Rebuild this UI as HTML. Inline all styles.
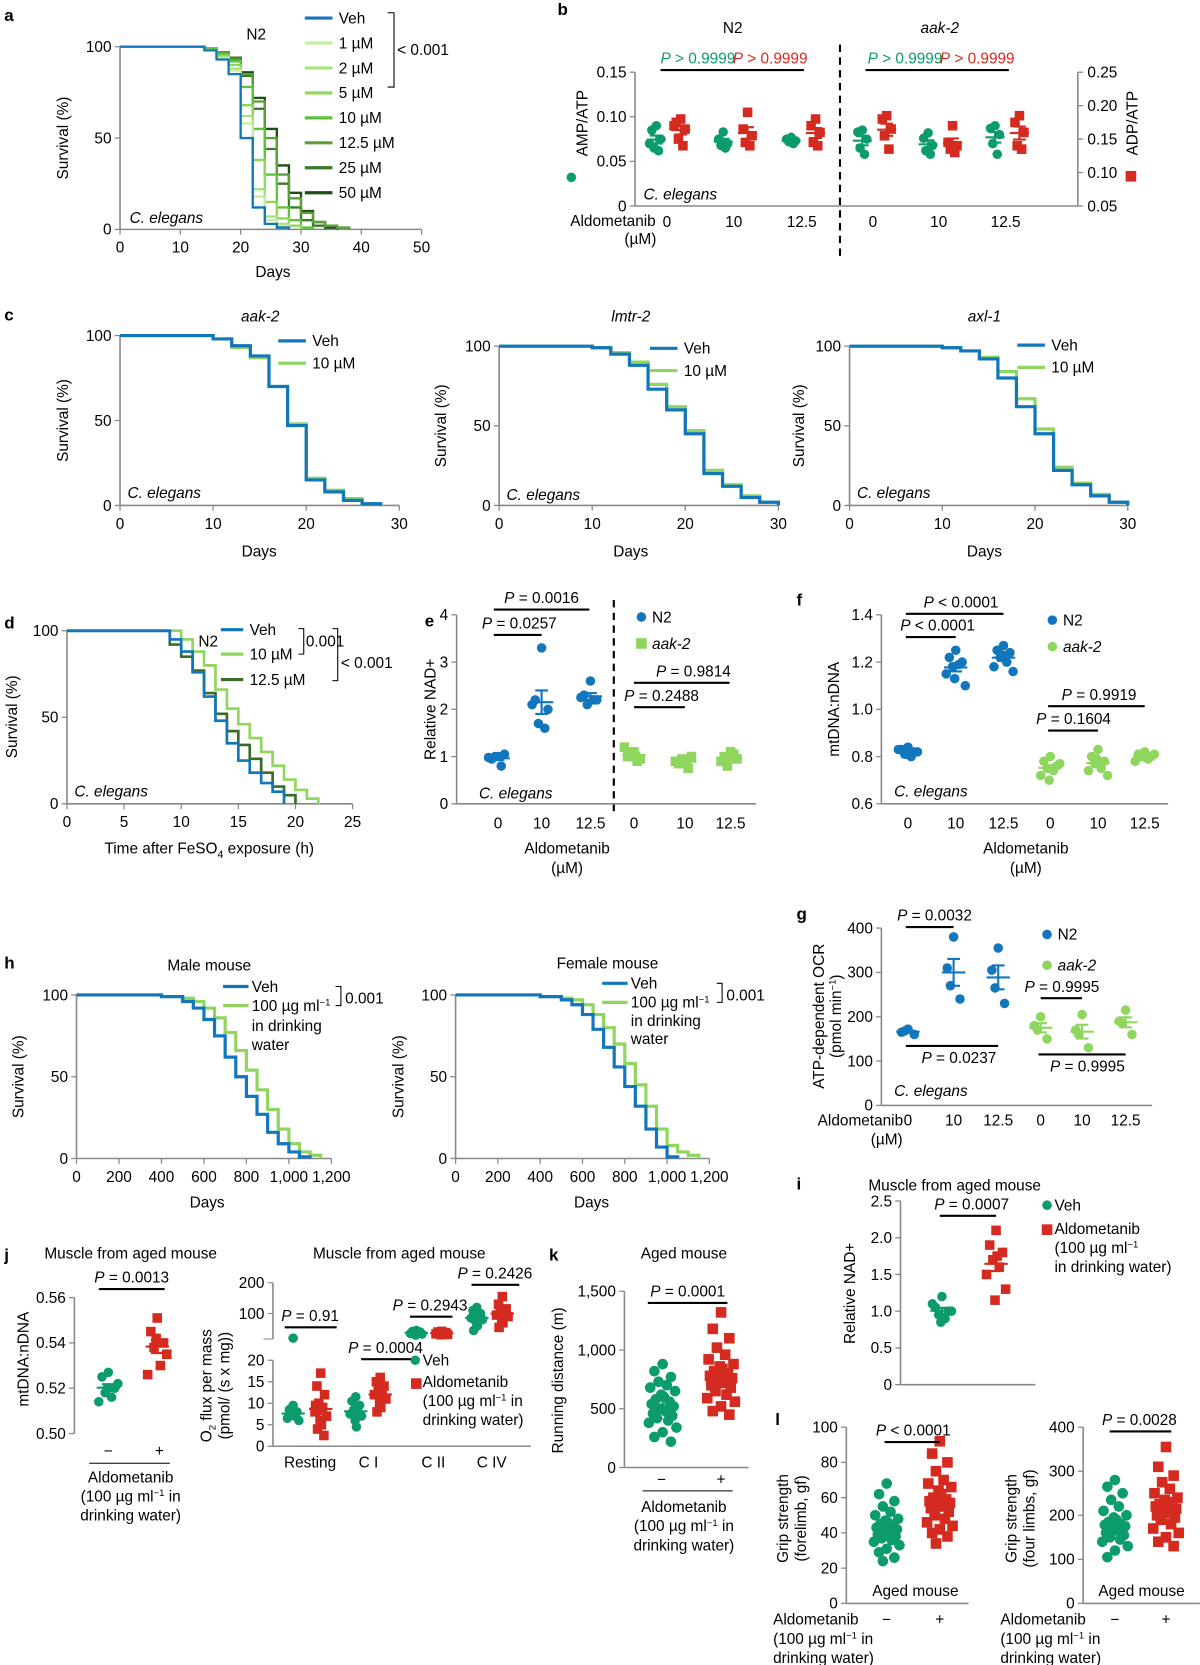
<!DOCTYPE html>
<html><head><meta charset="utf-8"><style>
html,body{margin:0;padding:0;background:#fff}
svg{display:block;font-family:"Liberation Sans",Arial,sans-serif;font-size:14.5px}
.b{font-weight:bold;font-size:16px}
.i{font-style:italic}
</style></head><body>
<svg id="fig" width="1200" height="1665" viewBox="0 0 1130 1568" xmlns="http://www.w3.org/2000/svg">
<!-- panel a -->
<text x="4" y="20" class="b">a</text>
<text x="232" y="37">N2</text>
<text transform="translate(64,130) rotate(-90)" text-anchor="middle">Survival (%)</text>
<text x="122" y="210" class="i">C. elegans</text>
<text x="257" y="261" text-anchor="middle">Days</text>
<path d="M365,12 H371 V82 H365" fill="none" stroke="#000"/>
<text x="374" y="52">&lt; 0.001</text>
<!-- panel b -->
<text x="525" y="14" class="b">b</text>
<text x="690" y="31" text-anchor="middle">N2</text>
<text x="885" y="31" text-anchor="middle" class="i">aak-2</text>
<text transform="translate(553,116) rotate(-90)" text-anchor="middle">AMP/ATP</text>
<circle cx="538" cy="167" r="4.5" fill="#0b9b6d"/>
<text transform="translate(1071,116) rotate(-90)" text-anchor="middle">ADP/ATP</text>
<rect x="1060" y="161" width="10" height="10" fill="#d52a1f"/>
<text x="606" y="188" class="i">C. elegans</text>
<text x="537" y="213">Aldometanib</text>
<text x="588" y="230">(µM)</text>
<line x1="791" y1="42" x2="791" y2="242" stroke="#000" stroke-width="2" stroke-dasharray="7,5"/>
<line x1="622" y1="66" x2="757" y2="66" stroke="#000" stroke-width="2"/>
<text x="622" y="60" fill="#0b9b6d"><tspan class="i">P</tspan> &gt; 0.9999</text>
<text x="690" y="60" fill="#d52a1f"><tspan class="i">P</tspan> &gt; 0.9999</text>
<line x1="815" y1="66" x2="950" y2="66" stroke="#000" stroke-width="2"/>
<text x="817" y="60" fill="#0b9b6d"><tspan class="i">P</tspan> &gt; 0.9999</text>
<text x="885" y="60" fill="#d52a1f"><tspan class="i">P</tspan> &gt; 0.9999</text>
<!-- panel c -->
<text x="4" y="302" class="b">c</text>
<text x="245" y="303" text-anchor="middle" class="i">aak-2</text>
<text x="594" y="303" text-anchor="middle" class="i">lmtr-2</text>
<text x="927" y="303" text-anchor="middle" class="i">axl-1</text>
<text transform="translate(64,396) rotate(-90)" text-anchor="middle">Survival (%)</text>
<text transform="translate(420,401) rotate(-90)" text-anchor="middle">Survival (%)</text>
<text transform="translate(757,401) rotate(-90)" text-anchor="middle">Survival (%)</text>
<text x="120" y="469" class="i">C. elegans</text>
<text x="477" y="471" class="i">C. elegans</text>
<text x="807" y="469" class="i">C. elegans</text>
<text x="244" y="524" text-anchor="middle">Days</text>
<text x="594" y="524" text-anchor="middle">Days</text>
<text x="927" y="524" text-anchor="middle">Days</text>
<!-- panel d -->
<text x="4" y="592" class="b">d</text>
<text x="196" y="609" text-anchor="middle">N2</text>
<text transform="translate(16,675) rotate(-90)" text-anchor="middle">Survival (%)</text>
<text x="70" y="750" class="i">C. elegans</text>
<text x="197" y="804" text-anchor="middle">Time after FeSO<tspan font-size="10" dy="4">4</tspan><tspan dy="-4"> exposure (h)</tspan></text>
<path d="M281,592 H286 V616 H281" fill="none" stroke="#000"/>
<text x="288" y="609">0.001</text>
<path d="M313,592 H318 V641 H313" fill="none" stroke="#000"/>
<text x="321" y="629">&lt; 0.001</text>
<!-- panel e -->
<text x="400" y="590" class="b">e</text>
<text transform="translate(410,668) rotate(-90)" text-anchor="middle">Relative NAD+</text>
<text x="451" y="752" class="i">C. elegans</text>
<text x="534" y="804" text-anchor="middle">Aldometanib</text>
<text x="534" y="822" text-anchor="middle">(µM)</text>
<line x1="578" y1="565" x2="578" y2="765" stroke="#000" stroke-width="2" stroke-dasharray="7,5"/>
<circle cx="604" cy="581" r="4.5" fill="#1176bc"/>
<text x="614" y="586">N2</text>
<rect x="599" y="601" width="10" height="10" fill="#8fd65e"/>
<text x="614" y="611" class="i">aak-2</text>
<!-- panel f -->
<text x="750" y="570" class="b">f</text>
<text transform="translate(790,668) rotate(-90)" text-anchor="middle">mtDNA:nDNA</text>
<text x="842" y="750" class="i">C. elegans</text>
<text x="966" y="804" text-anchor="middle">Aldometanib</text>
<text x="966" y="822" text-anchor="middle">(µM)</text>
<circle cx="991" cy="584" r="4.5" fill="#1176bc"/>
<text x="1001" y="589">N2</text>
<circle cx="991" cy="609" r="4.5" fill="#8fd65e"/>
<text x="1001" y="614" class="i">aak-2</text>
<!-- panel g -->
<text x="750" y="866" class="b">g</text>
<text transform="translate(776,957) rotate(-90)" text-anchor="middle">ATP-dependent OCR</text>
<text transform="translate(792,957) rotate(-90)" text-anchor="middle">(pmol min<tspan font-size="9" dy="-5">−1</tspan><tspan dy="5">)</tspan></text>
<text x="842" y="1032" class="i">C. elegans</text>
<text x="770" y="1060">Aldometanib</text>
<text x="820" y="1078">(µM)</text>
<circle cx="986" cy="880" r="4.5" fill="#1176bc"/>
<text x="996" y="885">N2</text>
<circle cx="986" cy="909" r="4.5" fill="#8fd65e"/>
<text x="996" y="914" class="i">aak-2</text>
<!-- panel h -->
<text x="4" y="912" class="b">h</text>
<text x="197" y="914" text-anchor="middle">Male mouse</text>
<text x="572" y="912" text-anchor="middle">Female mouse</text>
<text transform="translate(22,1014) rotate(-90)" text-anchor="middle">Survival (%)</text>
<text transform="translate(380,1014) rotate(-90)" text-anchor="middle">Survival (%)</text>
<text x="195" y="1137" text-anchor="middle">Days</text>
<text x="557" y="1137" text-anchor="middle">Days</text>
<g>
<line x1="210" y1="929" x2="234" y2="929" stroke="#1176bc" stroke-width="3"/><text x="237" y="934">Veh</text>
<line x1="210" y1="947" x2="234" y2="947" stroke="#8fd65e" stroke-width="3"/><text x="237" y="952">100 µg ml<tspan font-size="9" dy="-5">−1</tspan></text>
<text x="237" y="971">in drinking</text><text x="237" y="989">water</text>
<path d="M316,929 H321 V947 H316" fill="none" stroke="#000"/><text x="325" y="945">0.001</text>
</g>
<g>
<line x1="567" y1="926" x2="591" y2="926" stroke="#1176bc" stroke-width="3"/><text x="594" y="931">Veh</text>
<line x1="567" y1="944" x2="591" y2="944" stroke="#8fd65e" stroke-width="3"/><text x="594" y="949">100 µg ml<tspan font-size="9" dy="-5">−1</tspan></text>
<text x="594" y="966">in drinking</text><text x="594" y="983">water</text>
<path d="M675,926 H680 V944 H675" fill="none" stroke="#000"/><text x="684" y="942">0.001</text>
</g>
<!-- panel i -->
<text x="750" y="1120" class="b">i</text>
<text x="899" y="1121" text-anchor="middle">Muscle from aged mouse</text>
<text transform="translate(805,1218) rotate(-90)" text-anchor="middle">Relative NAD+</text>
<circle cx="986" cy="1135" r="4.5" fill="#0b9b6d"/>
<text x="993" y="1140">Veh</text>
<rect x="981" y="1153" width="10" height="10" fill="#d52a1f"/>
<text x="993" y="1162">Aldometanib</text>
<text x="993" y="1180">(100 µg ml<tspan font-size="9" dy="-5">−1</tspan><tspan dy="5"></tspan></text>
<text x="993" y="1198">in drinking water)</text>
<!-- panel j -->
<text x="4" y="1187" class="b">j</text>
<text x="123" y="1185" text-anchor="middle">Muscle from aged mouse</text>
<text transform="translate(27,1280) rotate(-90)" text-anchor="middle">mtDNA:nDNA</text>
<text x="102" y="1371" text-anchor="middle">−</text>
<text x="150" y="1371" text-anchor="middle">+</text>
<line x1="84" y1="1378" x2="160" y2="1378" stroke="#000"/>
<text x="123" y="1396" text-anchor="middle">Aldometanib</text>
<text x="123" y="1414" text-anchor="middle">(100 µg ml<tspan font-size="9" dy="-5">−1</tspan><tspan dy="5"> in</tspan></text>
<text x="123" y="1432" text-anchor="middle">drinking water)</text>
<text x="376" y="1185" text-anchor="middle">Muscle from aged mouse</text>
<text transform="translate(199,1305) rotate(-90)" text-anchor="middle">O<tspan font-size="9" dy="4">2</tspan><tspan dy="-4"> flux per mass</tspan></text>
<text transform="translate(216,1305) rotate(-90)" text-anchor="middle">(pmol/ (s x mg))</text>
<text x="292" y="1382" text-anchor="middle">Resting</text>
<text x="347" y="1382" text-anchor="middle">C I</text>
<text x="408" y="1382" text-anchor="middle">C II</text>
<text x="463" y="1382" text-anchor="middle">C IV</text>
<circle cx="391" cy="1281" r="4.5" fill="#0b9b6d"/>
<text x="398" y="1286">Veh</text>
<rect x="387" y="1298" width="10" height="10" fill="#d52a1f"/>
<text x="398" y="1306">Aldometanib</text>
<text x="398" y="1324">(100 µg ml<tspan font-size="9" dy="-5">−1</tspan><tspan dy="5"> in</tspan></text>
<text x="398" y="1342">drinking water)</text>
<!-- panel k -->
<text x="517" y="1187" class="b">k</text>
<text x="644" y="1185" text-anchor="middle">Aged mouse</text>
<text transform="translate(530,1300) rotate(-90)" text-anchor="middle">Running distance (m)</text>
<text x="623" y="1398" text-anchor="middle">−</text>
<text x="679" y="1398" text-anchor="middle">+</text>
<line x1="605" y1="1404" x2="690" y2="1404" stroke="#000"/>
<text x="644" y="1424" text-anchor="middle">Aldometanib</text>
<text x="644" y="1442" text-anchor="middle">(100 µg ml<tspan font-size="9" dy="-5">−1</tspan><tspan dy="5"> in</tspan></text>
<text x="644" y="1460" text-anchor="middle">drinking water)</text>
<!-- panel l -->
<text x="730" y="1342" class="b">l</text>
<text transform="translate(742,1430) rotate(-90)" text-anchor="middle">Grip strength</text>
<text transform="translate(759,1430) rotate(-90)" text-anchor="middle">(forelimb, gf)</text>
<text transform="translate(957,1430) rotate(-90)" text-anchor="middle">Grip strength</text>
<text transform="translate(974,1430) rotate(-90)" text-anchor="middle">(four limbs, gf)</text>
<text x="862" y="1503" text-anchor="middle">Aged mouse</text>
<text x="1075" y="1503" text-anchor="middle">Aged mouse</text>
<text x="728" y="1530">Aldometanib</text>
<text x="728" y="1548">(100 µg ml<tspan font-size="9" dy="-5">−1</tspan><tspan dy="5"> in</tspan></text>
<text x="728" y="1566">drinking water)</text>
<text x="835" y="1530" text-anchor="middle">−</text>
<text x="885" y="1530" text-anchor="middle">+</text>
<text x="942" y="1530">Aldometanib</text>
<text x="942" y="1548">(100 µg ml<tspan font-size="9" dy="-5">−1</tspan><tspan dy="5"> in</tspan></text>
<text x="942" y="1566">drinking water)</text>
<text x="1050" y="1530" text-anchor="middle">−</text>
<text x="1098" y="1530" text-anchor="middle">+</text>
</svg>
<script>
// ---------- data ----------
const aDays=[0,10,14,16,18,20,22,24,26,28,30,32,34,36,38,40];
const aVeh=[100,100,98,93,85,50,12,3,1,0,0,0,0,0,0,0];
const a1=[100,100,98,94,87,58,18,5,2,0,0,0,0,0,0,0];
const a2=[100,100,98,94,88,62,22,7,3,0,0,0,0,0,0,0];
const a5=[100,100,98,95,90,68,38,15,6,2,0,0,0,0,0,0];
const a10=[100,100,99,96,92,78,55,30,12,5,1,0,0,0,0,0];
const a125=[100,100,99,97,93,85,70,50,30,17,9,4,2,1,0,0];
const a25=[100,100,99,97,94,84,66,44,25,12,5,2,0,0,0,0];
const a50=[100,100,99,97,94,86,72,55,35,20,10,4,1,0,0,0];
const aLabels=["Veh","1 µM","2 µM","5 µM","10 µM","12.5 µM","25 µM","50 µM"];
const bCats=["0","10","12.5","0","10","12.5"];
const bAMP=[[0.09,0.085,0.075,0.065,0.062,0.07],[0.083,0.075,0.07,0.068,0.065],[0.077,0.075,0.073,0.072,0.07],[0.085,0.083,0.075,0.065,0.058],[0.082,0.076,0.068,0.062,0.058],[0.09,0.087,0.08,0.07,0.058]];
const bADP=[[0.18,0.175,0.165,0.15,0.14,0.17],[0.19,0.165,0.155,0.145,0.14],[0.18,0.17,0.16,0.145,0.14],[0.185,0.18,0.165,0.155,0.135],[0.17,0.145,0.14,0.135,0.13],[0.185,0.175,0.16,0.14,0.135]];
const cDays=[0,8,10,12,14,16,18,20,22,24,26,28,30];
const c1Veh=[100,100,98,94,88,70,47,15,8,3,1,0,0];
const c1Drug=[100,100,98,93,87,70,48,16,9,4,1,0,0];
const c2Veh=[100,100,99,95,88,73,60,45,20,12,5,2,0];
const c2Drug=[100,100,99,96,90,76,62,47,22,13,6,2,0];
const c3Veh=[100,100,99,97,92,80,62,45,22,13,6,2,0];
const c3Drug=[100,100,99,97,93,84,67,48,24,14,7,2,0];
const dHours=[0,8,9,10,11,12,13,14,15,16,17,18,19,20,21,22];
const dVeh=[100,100,95,88,76,62,48,35,25,18,12,7,0,0,0,0];
const d10=[100,100,100,95,88,80,66,55,46,38,30,22,14,8,3,0];
const d125=[100,100,92,85,77,64,52,42,34,26,18,10,5,0,0,0];
const eVals=[[1.0,0.95,1.05,1.0,0.8,0.98],[3.3,2.2,2.0,1.7,1.6,2.1],[2.6,2.3,2.2,2.1,2.2,2.25],[1.1,1.0,0.95,1.05,0.9,1.2],[0.9,0.85,1.0,0.95,0.75,0.9],[1.1,1.0,0.95,0.8,1.05,0.9]];
const fVals=[[0.84,0.83,0.82,0.81,0.80,0.83,0.82,0.81],[1.25,1.22,1.20,1.18,1.19,1.15,1.10,1.13],[1.27,1.25,1.24,1.22,1.20,1.18,1.16,1.23],[0.80,0.78,0.76,0.75,0.74,0.72,0.77,0.70],[0.83,0.80,0.78,0.77,0.75,0.74,0.72,0.79],[0.82,0.81,0.80,0.80,0.79,0.78,0.81,0.80]];
const gVals=[[172,165,160,168],[380,310,240,270],[355,305,230,265],[200,180,150,170],[205,170,130,160],[215,190,160,185]];
const hDays=[0,400,500,550,600,650,700,750,800,850,900,950,1000,1050,1100,1150,1250];
const hMVeh=[100,99,96,92,85,75,62,50,38,27,16,9,4,1,0,0,0];
const hMDrug=[100,99,98,96,92,86,77,66,54,42,30,18,9,4,2,0,0];
const hFVeh=[100,99,97,94,88,79,68,56,44,32,18,7,1,0,0,0,0];
const hFDrug=[100,99,98,97,94,88,80,70,58,45,32,18,8,4,2,0,0];
const iVeh=[1.2,1.05,1.0,0.95,0.9,1.1,1.0,0.85];
const iAld=[2.1,1.9,1.8,1.7,1.6,1.5,1.3,1.15,1.75];
const j1Veh=[0.527,0.525,0.52,0.518,0.516,0.514,0.522,0.52];
const j1Ald=[0.551,0.545,0.54,0.538,0.53,0.526,0.535,0.542];
const j2RestVeh=[9.5,8.5,8,7.5,7,6.5,6,8.2,7.2];
const j2RestAld=[17,14,12,10,9,8,7,6,5,4,2.5,9.5];
const j2C1Veh=[11.5,10.5,9.5,8.5,8,7.5,7,6,4.5];
const j2C1Ald=[16,15,14,13,12.5,12,11,10,9,8];
const j2C2Veh=[45,42,40,38,36,35,33,30];
const j2C2Ald=[42,40,38,36,35,34,32,31];
const j2C4Veh=[120,110,100,95,90,85,80,70,60,45];
const j2C4Ald=[155,130,115,105,100,95,90,80,70,55];
const kVeh=[880,820,770,730,700,680,650,620,600,580,560,540,520,500,480,460,440,420,400,380,340,300,260,220];
const kAld=[1320,1180,1100,1020,960,920,880,860,840,820,800,780,760,740,720,700,680,650,620,590,560,520,480,450];
const l1Veh=[68,62,58,55,52,50,48,47,46,45,44,43,42,41,40,39,38,37,36,35,33,31,29,26,24];
const l1Ald=[92,85,80,75,70,68,66,64,62,60,59,58,57,56,55,54,52,50,48,46,44,42,40,38,34];
const l2Veh=[280,265,250,235,220,210,200,195,190,185,180,178,175,170,165,160,155,150,145,140,130,120,105];
const l2Ald=[355,310,290,275,260,250,240,235,230,225,222,220,215,210,205,200,195,190,180,170,160,150,140,130];

// ---------- helpers ----------
const NS='http://www.w3.org/2000/svg';
const S=document.getElementById('fig');
const BLUE='#1176bc',LG='#8fd65e',TEAL='#0b9b6d',RED='#d52a1f',AX='#888';
function mk(tag,attrs,parent){const e=document.createElementNS(NS,tag);for(const k in attrs)e.setAttribute(k,attrs[k]);(parent||S).appendChild(e);return e;}
function lin(d0,d1,r0,r1){return v=>r0+(v-d0)/(d1-d0)*(r1-r0);}
function yAxis(x,y0,y1,d0,d1,ticks,labels,right){
  const sc=lin(d0,d1,y0,y1);
  const ln=mk('line',{x1:x,y1:y0,x2:x,y2:y1,stroke:AX,'stroke-width':1.5});
  
  
  ticks.forEach((t,i)=>{
    const y=sc(t);
    const tk=mk('line',{x1:x,y1:y,x2:right?x+5:x-5,y2:y,stroke:AX,'stroke-width':1.2});
    
    
    const tx=mk('text',{x:right?x+9:x-8,y:y+5,'text-anchor':right?'start':'end'});
    tx.textContent=labels[i];
    
    
  });
  return sc;
}
function xAxis(y,x0,x1,d0,d1,ticks,labels){
  const sc=lin(d0,d1,x0,x1);
  const ln=mk('line',{x1:x0,y1:y,x2:x1,y2:y,stroke:AX,'stroke-width':1.5});
  
  
  ticks.forEach((t,i)=>{
    const x=sc(t);
    const tk=mk('line',{x1:x,y1:y,x2:x,y2:y+5,stroke:AX,'stroke-width':1.2});
    
    
    const tx=mk('text',{x:x,y:y+22,'text-anchor':'middle'});
    tx.textContent=labels[i];
    
    
  });
  return sc;
}
function plainX(y,x0,x1){const l=mk('line',{x1:x0,y1:y,x2:x1,y2:y,stroke:AX,'stroke-width':1.5});
  
  }
function stepCurve(sx,sy,xs,vs,color,w,name){
  let d='M'+sx(xs[0])+','+sy(vs[0]);
  for(let i=1;i<xs.length;i++){d+=' H'+sx(xs[i])+' V'+sy(vs[i]);if(vs[i]===0)break;}
  const p=mk('path',{d:d,fill:'none',stroke:color,'stroke-width':w,'stroke-linejoin':'miter'});
  
  
}
const JIT=[0,-6,6,-3,3,-9,9,-1,1,-5,5,-8,8,-2,2,-7,7,-4,4,-10,10,0,-6,6,-3];
function dots(cx,sy,vals,color,shape,name,r,spread,meanW){
  r=r||4.5;spread=spread||1;meanW=meanW||22;
  const g=mk('g',{});
  
  
  vals.forEach((v,i)=>{
    const x=cx+JIT[i%JIT.length]*spread,y=sy(v);
    let m;
    if(shape==='c')m=mk('circle',{cx:x,cy:y,r:r,fill:color},g);
    else m=mk('rect',{x:x-r,y:y-r,width:2*r,height:2*r,fill:color},g);
    
    
  });
  const n=vals.length,mean=vals.reduce((a,b)=>a+b,0)/n;
  const sd=Math.sqrt(vals.reduce((a,b)=>a+(b-mean)*(b-mean),0)/(n-1)),se=sd/Math.sqrt(n);
  const st={stroke:color,'stroke-width':2};
  const ml=mk('line',Object.assign({x1:cx-meanW/2,x2:cx+meanW/2,y1:sy(mean),y2:sy(mean)},st),g);
  
  
  const e1=mk('path',Object.assign({d:`M${cx},${sy(mean-se)}V${sy(mean+se)}M${cx-6},${sy(mean-se)}H${cx+6}M${cx-6},${sy(mean+se)}H${cx+6}`,fill:'none'},st),g);
  
  
}
function sig(x1,x2,y,label,tx){
  const l=mk('line',{x1:x1,y1:y,x2:x2,y2:y,stroke:'#000','stroke-width':2});
  
  
  const t=mk('text',{x:tx===undefined?(x1+x2)/2:tx,y:y-6,'text-anchor':'middle'});
  t.innerHTML='<tspan font-style="italic">P</tspan> '+label;
  
  
}
function legendLine(x,y,color,label,w,len){
  len=len||26;
  const l=mk('line',{x1:x,y1:y,x2:x+len,y2:y,stroke:color,'stroke-width':w||3});
  
  
  const t=mk('text',{x:x+len+6,y:y+5});t.textContent=label;
  
  
}

// ---------- panel a ----------
{const sx=xAxis(216,113,397,0,50,[0,10,20,30,40,50],['0','10','20','30','40','50']);
 const sy=yAxis(113,216,44,0,100,[0,50,100],['0','50','100']);
 const series=[aVeh,a1,a2,a5,a10,a125,a25,a50];
 const cols=[BLUE,'#c4eea0','#a4e37a','#8ed85a','#5fc13c','#5b9e3a','#3b7a2c','#1e4d1a'];
 for(let k=series.length-1;k>=0;k--)stepCurve(sx,sy,aDays,series[k],cols[k],2.2,'panel-a-curve-'+k);
 aLabels.forEach((lb,k)=>legendLine(287,17+k*23.5,cols[k],lb));}
// ---------- panel b ----------
{const syL=yAxis(598,194,68,0,0.15,[0,0.05,0.10,0.15],['0','0.05','0.10','0.15']);
 const syR=yAxis(1015,194,68,0.05,0.25,[0.05,0.10,0.15,0.20,0.25],['0.05','0.10','0.15','0.20','0.25'],true);
 plainX(194,598,1015);
 const cx=[628,691,755,822,884,947];
 bCats.forEach((c,i)=>{const t=mk('text',{x:cx[i],y:214,'text-anchor':'middle'});t.textContent=c;
   
   
   dots(cx[i]-10,syL,bAMP[i],TEAL,'c','panel-b-amp-'+i,4.5,0.7,18);
   dots(cx[i]+13,syR,bADP[i],RED,'s','panel-b-adp-'+i,4.5,0.7,18);});}
// ---------- panel c ----------
{const cfg=[[113,376,316,c1Veh,c1Drug,262,321],[470,733,326,c2Veh,c2Drug,612,328],[800,1062,326,c3Veh,c3Drug,958,325]];
 cfg.forEach((c,j)=>{const sx=xAxis(476,c[0],c[1],0,30,[0,10,20,30],['0','10','20','30']);
  const sy=yAxis(c[0],476,c[2],0,100,[0,50,100],['0','50','100']);
  stepCurve(sx,sy,cDays,c[4],LG,3,'panel-c'+(j+1)+'-drug-curve');
  stepCurve(sx,sy,cDays,c[3],BLUE,3,'panel-c'+(j+1)+'-veh-curve');
  legendLine(c[5],c[6],BLUE,'Veh');legendLine(c[5],c[6]+21,LG,'10 µM');});}
// ---------- panel d ----------
{const sx=xAxis(757,63,332,0,25,[0,5,10,15,20,25],['0','5','10','15','20','25']);
 const sy=yAxis(63,757,594,0,100,[0,50,100],['0','50','100']);
 stepCurve(sx,sy,dHours,d10,LG,2.5,'panel-d-10um-curve');
 stepCurve(sx,sy,dHours,d125,'#3a6b2a',2.5,'panel-d-12.5um-curve');
 stepCurve(sx,sy,dHours,dVeh,BLUE,2.5,'panel-d-veh-curve');
 legendLine(208,593,BLUE,'Veh',3,21);legendLine(208,616,LG,'10 µM',3,21);legendLine(208,640,'#3a6b2a','12.5 µM',3,21);}
// ---------- panel e ----------
{const sy=yAxis(430,757,579,0,4,[0,1,2,3,4],['0','1','2','3','4']);plainX(757,430,712);
 const cx=[469,510,556,597,645,688],cats=['0','10','12.5','0','10','12.5'];
 cx.forEach((x,i)=>{const t=mk('text',{x:x,y:780,'text-anchor':'middle'});t.textContent=cats[i];
  
  
  dots(x,sy,eVals[i],i<3?BLUE:LG,i<3?'c':'s','panel-e-group-'+i);});
 sig(465,555,574,'= 0.0016');sig(465,510,598,'= 0.0257',489);sig(597,687,643,'= 0.9814',653);sig(597,645,666,'= 0.2488',623);}
// ---------- panel f ----------
{const sy=yAxis(830,757,579,0.6,1.4,[0.6,0.8,1.0,1.2,1.4],['0.6','0.8','1.0','1.2','1.4']);plainX(757,830,1100);
 const cx=[855,900,945,989,1034,1078],cats=['0','10','12.5','0','10','12.5'];
 cx.forEach((x,i)=>{const t=mk('text',{x:x,y:780,'text-anchor':'middle'});t.textContent=cats[i];
  
  
  dots(x,sy,fVals[i],i<3?BLUE:LG,'c','panel-f-group-'+i);});
 sig(853,945,578,'< 0.0001',905);sig(853,900,600,'< 0.0001',883);sig(987,1078,665,'= 0.9919',1035);sig(987,1034,688,'= 0.1604',1011);}
// ---------- panel g ----------
{const sy=yAxis(830,1041,874,0,400,[0,100,200,300,400],['0','100','200','300','400']);plainX(1041,830,1085);
 const cx=[855,898,940,980,1019,1060],cats=['0','10','12.5','0','10','12.5'];
 cx.forEach((x,i)=>{const t=mk('text',{x:x,y:1060,'text-anchor':'middle'});t.textContent=cats[i];
  
  
  dots(x,sy,gVals[i],i<3?BLUE:LG,'c','panel-g-group-'+i);});
 sig(853,898,873,'= 0.0032',880);sig(980,1019,940,'= 0.9995',1000);
 const l1=mk('line',{x1:853,y1:985,x2:940,y2:985,stroke:'#000','stroke-width':2});
 
 
 const t1=mk('text',{x:903,y:1001,'text-anchor':'middle'});t1.innerHTML='<tspan font-style="italic">P</tspan> = 0.0237';
 
 
 const l2=mk('line',{x1:978,y1:993,x2:1060,y2:993,stroke:'#000','stroke-width':2});
 
 
 const t2=mk('text',{x:1024,y:1009,'text-anchor':'middle'});t2.innerHTML='<tspan font-style="italic">P</tspan> = 0.9995';
 
 }
// ---------- panel h ----------
{const hx=[[72,312,hMVeh,hMDrug,'h1'],[429,668,hFVeh,hFDrug,'h2']];
 hx.forEach(c=>{const sx=xAxis(1091,c[0],c[1],0,1200,[0,200,400,600,800,1000,1200],['0','200','400','600','800','1,000','1,200']);
  const sy=yAxis(c[0],1091,937,0,100,[0,50,100],['0','50','100']);
  stepCurve(sx,sy,hDays,c[3],LG,3,'panel-'+c[4]+'-drug-curve');
  stepCurve(sx,sy,hDays,c[2],BLUE,3,'panel-'+c[4]+'-veh-curve');});}
// ---------- panel i ----------
{const sy=yAxis(848,1304,1131,0,2.5,[0,0.5,1.0,1.5,2.0,2.5],['0','0.5','1.0','1.5','2.0','2.5']);plainX(1304,848,975);
 dots(887,sy,iVeh,TEAL,'c','panel-i-veh');dots(938,sy,iAld,RED,'s','panel-i-ald');sig(885,938,1145,'= 0.0007',915);}
// ---------- panel j1 ----------
{const sy=yAxis(70,1350,1222,0.5,0.56,[0.5,0.52,0.54,0.56],['0.50','0.52','0.54','0.56']);
 dots(102,sy,j1Veh,TEAL,'c','panel-j1-veh');dots(148,sy,j1Ald,RED,'s','panel-j1-ald');sig(93,155,1214,'= 0.0013');}
// ---------- panel j2 ----------
{const syU=lin(0,200,1266,1208);
 const ax=mk('line',{x1:257,y1:1261,x2:257,y2:1208,stroke:AX,'stroke-width':1.5});
 
 
 [[100,'100'],[200,'200']].forEach(t=>{const tk=mk('line',{x1:252,x2:257,y1:syU(t[0]),y2:syU(t[0]),stroke:AX});
  
  
  const tx=mk('text',{x:249,y:syU(t[0])+5,'text-anchor':'end'});tx.textContent=t[1];
  
  });
 const br=mk('line',{x1:248,x2:257,y1:1261,y2:1261,stroke:AX});
 
 
 const syL=yAxis(257,1362,1281,0,20,[0,5,10,15,20],['0','5','10','15','20']);plainX(1362,257,500);
 dots(276,syL,j2RestVeh,TEAL,'c','panel-j2-rest-veh',4.5,0.6);
 const out=mk('circle',{cx:276,cy:syU(20),r:4.5,fill:TEAL});
 
 
 dots(302,syL,j2RestAld,RED,'s','panel-j2-rest-ald',4.5,0.6);
 dots(335,syL,j2C1Veh,TEAL,'c','panel-j2-c1-veh',4.5,0.6);
 dots(358,syL,j2C1Ald,RED,'s','panel-j2-c1-ald',4.5,0.6);
 dots(392,syU,j2C2Veh,TEAL,'c','panel-j2-c2-veh',4.5,0.6);
 dots(416,syU,j2C2Ald,RED,'s','panel-j2-c2-ald',4.5,0.6);
 dots(449,syU,j2C4Veh,TEAL,'c','panel-j2-c4-veh',4.5,0.6);
 dots(473,syU,j2C4Ald,RED,'s','panel-j2-c4-ald',4.5,0.6);
 sig(268,317,1250,'= 0.91',292);sig(340,387,1280,'= 0.0004',363);sig(386,426,1240,'= 0.2943',405);sig(444,489,1210,'= 0.2426',466);}
// ---------- panel k ----------
{const sy=yAxis(588,1382,1216,0,1500,[0,500,1000,1500],['0','500','1,000','1,500']);plainX(1382,588,705);
 dots(624,sy,kVeh,TEAL,'c','panel-k-veh',5,1.3,26);dots(679,sy,kAld,RED,'s','panel-k-ald',5,1.3,26);sig(610,685,1227,'= 0.0001');}
// ---------- panel l ----------
{const sy=yAxis(797,1510,1344,0,100,[0,20,40,60,80,100],['0','20','40','60','80','100']);plainX(1510,797,912);
 dots(835,sy,l1Veh,TEAL,'c','panel-l1-veh',5,1.2,26);dots(885,sy,l1Ald,RED,'s','panel-l1-ald',5,1.2,26);sig(833,885,1358,'< 0.0001',860);
 const sy2=yAxis(1020,1510,1344,0,400,[0,100,200,300,400],['0','100','200','300','400']);plainX(1510,1020,1130);
 dots(1050,sy2,l2Veh,TEAL,'c','panel-l2-veh',5,1.2,26);dots(1098,sy2,l2Ald,RED,'s','panel-l2-ald',5,1.2,26);sig(1045,1103,1348,'= 0.0028',1073);}
</script>
</body></html>
